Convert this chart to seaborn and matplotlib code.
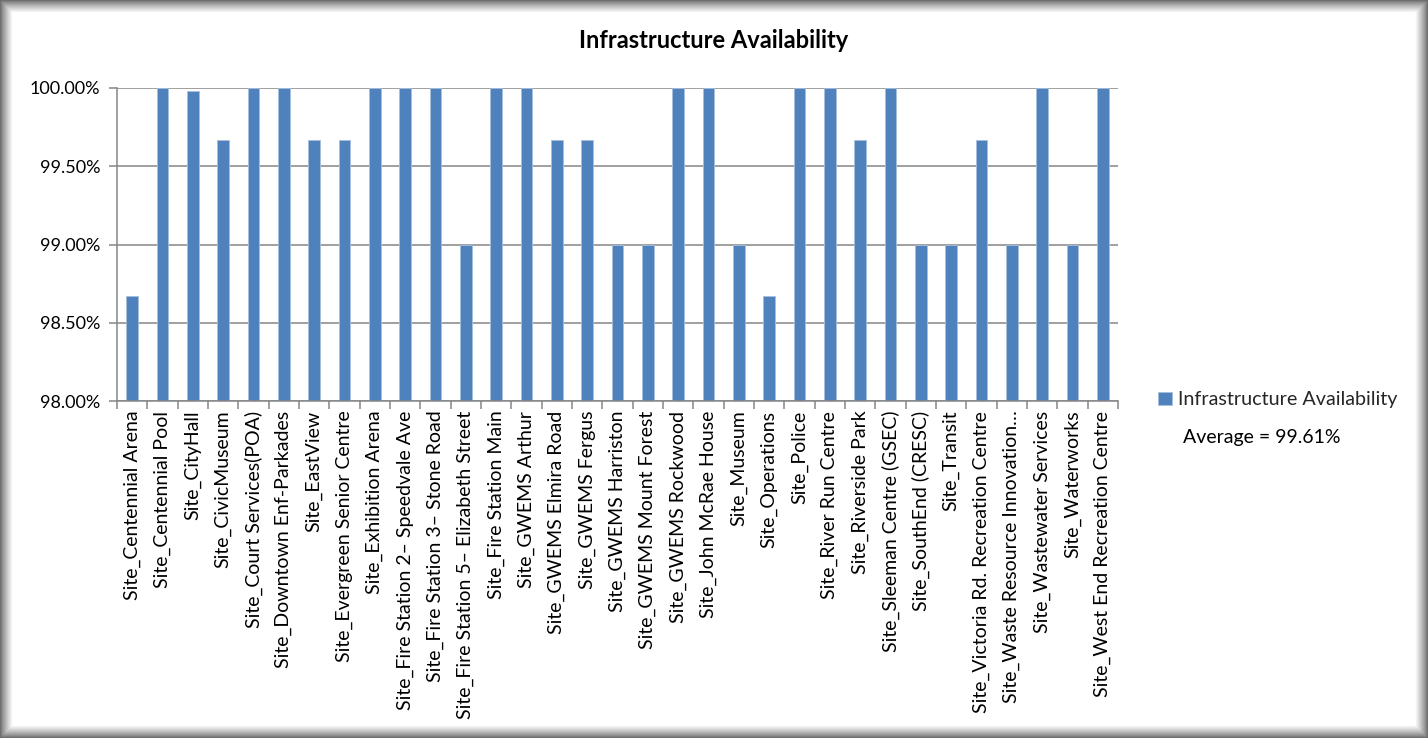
import numpy as np
import matplotlib
matplotlib.use("Agg")
import matplotlib.pyplot as plt
from matplotlib.patches import Rectangle
from matplotlib.ticker import FixedLocator, FuncFormatter
import seaborn as sns
import pandas as pd

sites = [
    "Site_Centennial Arena", "Site_Centennial Pool", "Site_CityHall", "Site_CivicMuseum",
    "Site_Court Services(POA)", "Site_Downtown Enf-Parkades", "Site_EastView",
    "Site_Evergreen Senior Centre", "Site_Exhibition Arena", "Site_Fire Station 2\u2013 Speedvale Ave",
    "Site_Fire Station 3\u2013 Stone Road", "Site_Fire Station 5\u2013 Elizabeth Street",
    "Site_Fire Station Main", "Site_GWEMS Arthur", "Site_GWEMS Elmira Road", "Site_GWEMS Fergus",
    "Site_GWEMS Harriston", "Site_GWEMS Mount Forest", "Site_GWEMS Rockwood",
    "Site_John McRae House", "Site_Museum", "Site_Operations", "Site_Police",
    "Site_River Run Centre", "Site_Riverside Park", "Site_Sleeman Centre (GSEC)",
    "Site_SouthEnd (CRESC)", "Site_Transit", "Site_Victoria Rd. Recreation Centre",
    "Site_Waste Resource Innovation\u2026", "Site_Wastewater Services", "Site_Waterworks",
    "Site_West End Recreation Centre",
]
availability = [
    98.67, 100.00, 99.98, 99.67, 100.00, 100.00, 99.67, 99.67, 100.00, 100.00,
    100.00, 99.00, 100.00, 100.00, 99.67, 99.67, 99.00, 99.00, 100.00, 100.00,
    99.00, 98.67, 100.00, 100.00, 99.67, 100.00, 99.00, 99.00, 99.67, 99.00,
    100.00, 99.00, 100.00,
]
series_name = "Infrastructure Availability"
y_ticks = [98.0, 98.5, 99.0, 99.5, 100.0]

df = pd.DataFrame({"site": sites, "value": availability})
average = np.mean(availability)

sns.set_theme(style="white")
plt.rcParams["font.family"] = ["Lato", "DejaVu Sans"]

W, H = 1428, 738
fig = plt.figure(figsize=(W / 100, H / 100), dpi=100)
fig.patch.set_facecolor("white")

# soft shaded frame around the chart
for i in range(14):
    shade = 0.35 + 0.65 * (i / 13) ** 0.8
    fig.patches.append(Rectangle((i / W, i / H), 1 - 2 * i / W, 1 - 2 * i / H,
                                 transform=fig.transFigure, fill=False,
                                 edgecolor=(shade, shade, shade), linewidth=1.2,
                                 zorder=0))

ax = fig.add_axes([117 / W, 1 - 401 / H, (1118 - 117) / W, (401 - 88) / H])
bar_color = "#4F81BD"
sns.barplot(data=df, x="site", y="value", color=bar_color, width=0.39,
            saturation=1, ax=ax, label=series_name)
for p in ax.patches:
    p.set_edgecolor("#A7C0DE")
    p.set_linewidth(0.6)

ax.set_ylim(98.0, 100.0)
ax.set_xlim(-0.5, len(sites) - 0.5)
ax.yaxis.set_major_locator(FixedLocator(y_ticks))
ax.yaxis.set_major_formatter(FuncFormatter(lambda v, _: f"{v:.2f}%"))
ax.grid(axis="y", color="#868686", linewidth=1.1)
ax.set_axisbelow(True)
ax.set_xlabel("")
ax.set_ylabel("")

for side in ("top", "right"):
    ax.spines[side].set_visible(False)
for side in ("left", "bottom"):
    ax.spines[side].set_color("#868686")
    ax.spines[side].set_linewidth(1.1)

ax.set_xticks(range(len(sites)))
ax.set_xticklabels(sites, rotation=90, fontsize=14, color="black")
ax.tick_params(axis="x", which="major", length=0, pad=7)
ax.set_xticks(np.arange(-0.5, len(sites), 1.0), minor=True)
ax.tick_params(axis="x", which="minor", length=6, width=1.1, color="#868686",
               direction="out", bottom=True)
ax.tick_params(axis="y", which="major", length=6, width=1.1, color="#868686",
               direction="out", left=True, labelsize=13, labelcolor="black", pad=6)

fig.text(0.5, 1 - 40 / H, "Infrastructure Availability", ha="center", va="center",
         fontsize=17, fontweight="bold", color="black")

leg = ax.legend(loc="center left", bbox_to_anchor=(1158 / W, 1 - 400 / H),
                bbox_transform=fig.transFigure, frameon=False, fontsize=14.2,
                handlelength=0.7, handleheight=0.7, handletextpad=0.3,
                borderaxespad=0, borderpad=0)
fig.text(1183 / W, 1 - 438 / H, f"Average = {average:.2f}%", ha="left", va="center",
         fontsize=14, color="black")

fig.savefig("out.png", dpi=100)
